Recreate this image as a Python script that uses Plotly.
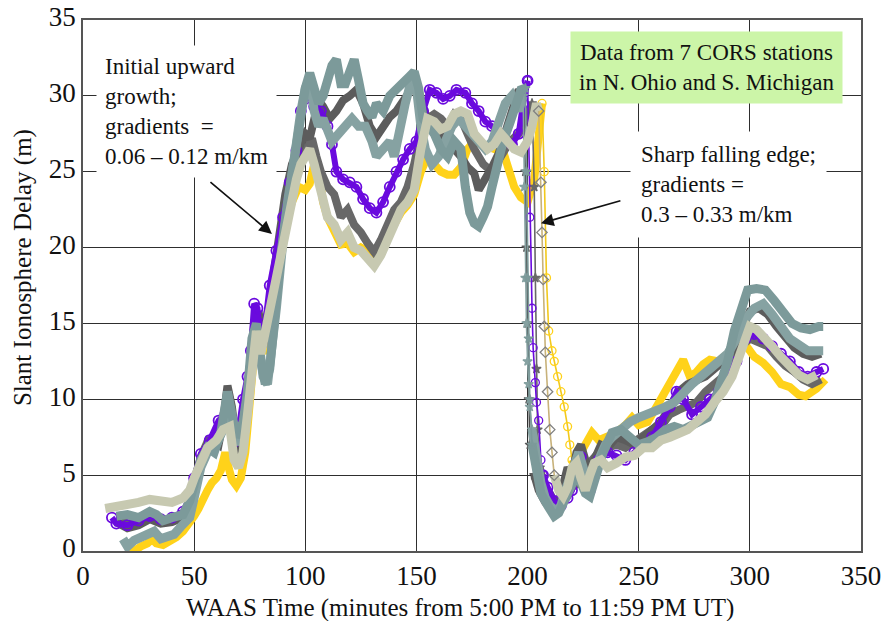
import plotly.graph_objects as go

# ---------------- data ----------------
x_ticks = [0, 50, 100, 150, 200, 250, 300, 350]
y_ticks = [0, 5, 10, 15, 20, 25, 30, 35]

khaki_x = [10, 15, 20, 25, 30, 35, 40, 45, 48, 50, 53, 56, 60, 63, 66, 68, 70, 72, 74, 76, 78, 80, 82, 84, 86, 88, 90,
           92, 94, 96, 98, 100, 102, 104, 106, 108, 110, 113, 116, 119, 122, 125, 128, 131, 134, 137, 140, 143, 146,
           149, 152, 155, 158, 161, 164, 167, 170, 173, 176, 179, 182, 185, 188, 191, 194, 197, 200, 202, 204, 205,
           206, 206.5, 207, 207.5, 208, 209, 210, 211, 212,
           214, 216, 218, 220, 222, 224, 226, 228, 230, 233, 236, 240, 244, 248, 252, 256, 260, 264, 268, 272, 276,
           280, 284, 288, 292, 296, 300, 303, 306, 310, 314, 318, 322, 326, 330]
khaki_y = [2.8, 2.9, 3.0, 3.2, 3.4, 3.3, 3.2, 3.5, 4.0, 4.8, 5.8, 6.8, 7.3, 8.0, 8.2, 6.0, 5.5, 6.5, 9.0, 12.5, 14.5,
           13.0, 14.5, 16.0, 17.5, 19.0, 20.5, 22.0, 23.5, 24.5, 25.5, 26.0, 26.5, 25.5, 24.5, 23.0, 22.0, 21.5, 20.5,
           21.0, 20.0, 19.8, 19.2, 18.8, 19.5, 20.5, 21.5, 22.5, 23.0, 23.8, 26.5, 28.5, 28.3, 27.8, 28.0, 28.8, 29.0,
           28.8, 27.5, 27.0, 26.5, 26.8, 27.5, 27.0, 26.5, 26.3, 27.0, 28.0, 29.5, 29.0,
           24.3, 21.0, 17.9, 14.8, 13.1, 10.5, 8.0, 6.5, 5.0,
           4.0, 3.6, 4.2, 5.5, 5.8, 4.8, 4.0, 5.0, 5.8, 6.0, 5.5, 5.8, 6.2, 6.3, 6.8, 6.8, 7.3, 7.5, 7.8, 8.0, 8.5,
           9.0, 9.8, 10.5, 11.5, 13.0, 14.8, 14.6, 14.2, 13.5, 12.8, 12.2, 11.6, 11.3, 11.6]

purple_x = [13, 15, 20, 25, 30, 35, 40, 45, 48, 50, 53, 57, 61, 64, 66, 68, 70, 72, 74, 75.5, 77, 78.5, 80, 82, 84, 87,
            90, 93, 96, 98, 100, 102, 104, 107, 110, 112, 114, 117, 120, 123, 126, 129, 132, 135, 138, 141, 144, 147,
            150, 153, 156, 159, 162, 165, 168, 172, 175, 178, 181, 184, 187, 190, 193, 196, 198, 200,
            201, 202, 202.5, 203.5, 204, 205, 206, 207,
            209, 212, 215, 218, 220, 222, 224, 226, 228, 230, 232, 236, 240, 244, 248, 252, 256, 260, 264, 267, 270,
            274, 278, 282, 286, 290, 294, 298, 302, 306, 310, 314, 318, 322, 326, 330, 333]
purple_y = [2.2, 1.8, 1.7, 2.0, 2.3, 2.1, 2.2, 2.6, 3.5, 4.8, 6.4, 7.3, 8.6, 9.0, 8.5, 7.2, 8.0, 10.0, 11.5, 13.2, 16.3,
            16.0, 14.0, 15.0, 17.5, 19.8, 22.0, 24.3, 26.4, 29.0, 29.8, 30.0, 29.3, 29.0, 28.0, 26.8, 25.0, 24.5, 24.3,
            24.0, 23.2, 22.6, 22.3, 23.0, 24.0, 25.0, 25.8, 26.5, 27.0, 29.0, 30.4, 30.2, 29.8, 30.0, 30.4, 30.2, 29.5,
            29.0, 28.3, 28.0, 27.5, 27.0, 26.8, 27.5, 29.5, 31.0,
            22.0, 16.0, 13.4, 11.1, 9.8, 8.6, 6.0, 5.0,
            4.2, 3.3, 3.0, 3.5, 4.0, 5.5, 6.2, 5.0, 4.0, 5.0, 6.0, 6.5, 6.3, 6.0, 6.5, 7.0, 7.5, 8.5, 9.5, 10.5, 10.0,
            9.0, 9.5, 10.0, 10.5, 11.5, 12.5, 14.0, 14.3, 14.0, 13.5, 13.0, 12.5, 11.8, 11.5, 11.8, 12.0]

darkgray1_x = [15, 20, 25, 30, 35, 40, 45, 48, 50, 53, 56, 58, 61, 63, 65, 67, 69, 71, 73, 75, 77, 79, 81, 83, 85, 88,
               91, 94, 97, 100, 102, 104, 106, 108, 111, 114, 117, 120, 123, 126, 129, 132, 135, 138, 141, 144, 147,
               149, 152, 155, 158, 161, 164, 167, 170, 173, 176, 178, 181, 184, 187, 190, 193, 196, 198,
               199, 199.5, 200, 200.5, 201, 203,
               205, 208, 211, 214, 216, 218, 220, 222, 224, 226, 228, 230, 233, 236, 240, 244, 248, 252, 256, 260, 264,
               268, 272, 276, 280, 284, 288, 292, 296, 300, 304, 308, 312, 316, 320, 324, 328, 332]
darkgray1_y = [1.9, 1.5, 1.7, 2.1, 1.8, 1.9, 2.2, 3.0, 4.5, 6.0, 7.0, 7.3, 7.0, 8.5, 10.9, 9.5, 7.0, 6.5, 8.0, 11.5,
               15.0, 15.8, 13.5, 14.5, 17.5, 20.5, 23.5, 25.5, 26.5, 27.5, 27.2, 28.5, 29.7, 29.3, 28.5, 29.0, 29.7,
               30.0, 30.4, 29.5, 28.0, 27.3, 28.0, 28.6, 29.0, 29.7, 30.3, 30.6, 29.5, 28.5, 28.0, 27.6, 27.0, 26.5,
               26.0, 25.3, 24.9, 23.8, 24.5, 25.3, 26.2, 27.5, 28.8, 30.4, 30.0,
               25.0, 20.0, 15.0, 10.0, 7.0, 5.0,
               4.0, 3.2, 2.8, 3.2, 4.5, 5.5, 5.0, 6.5, 7.0, 6.0, 5.0, 6.0, 7.0, 6.8, 7.5, 7.3, 7.0, 7.5, 8.0, 8.5, 9.5,
               10.5, 11.0, 11.3, 11.5, 12.0, 12.5, 13.0, 14.5, 15.8, 16.0, 15.6, 14.8, 14.0, 13.4, 13.0, 12.8, 13.0]

darkgray2_x = [17, 20, 25, 30, 35, 40, 45, 48, 50, 53, 56, 59, 62, 65, 67, 69, 72, 74, 76, 78, 80, 82, 85, 88, 91, 94,
               97, 100, 103, 105, 107, 110, 113, 116, 119, 122, 125, 128, 131, 134, 137, 140, 143, 146, 149, 152, 155,
               158, 161, 164, 167, 170, 173, 176, 180, 184, 188, 192, 196, 199, 202,
               203, 203.5, 204, 204.5, 205.5,
               207, 210, 213, 216, 218, 220, 223, 226, 229, 232, 236, 240, 244, 248, 252, 256, 260, 264, 268, 272, 276,
               280, 284, 288, 292, 296, 300, 304, 308, 312, 316, 320, 324, 328, 332]
darkgray2_y = [2.0, 1.8, 1.9, 2.4, 2.0, 2.1, 2.4, 3.2, 4.6, 6.2, 7.2, 6.8, 8.0, 9.5, 8.5, 6.5, 7.0, 9.5, 13.0, 15.5,
               13.8, 15.0, 17.0, 19.5, 22.5, 24.5, 25.5, 26.5, 27.2, 26.0, 25.0, 24.0, 23.5, 22.0, 22.5, 21.5, 21.0,
               20.3, 19.7, 20.5, 21.5, 22.5, 23.0, 24.0, 25.5, 27.5, 28.5, 28.8, 28.5, 28.0, 28.8, 28.5, 27.5, 26.5,
               25.5, 25.0, 26.0, 27.0, 27.5, 28.5, 29.5,
               24.0, 18.0, 12.0, 8.0, 5.5,
               4.5, 3.8, 3.0, 3.5, 5.0, 4.2, 4.5, 5.5, 6.0, 6.5, 6.8, 7.0, 6.8, 7.2, 7.5, 8.0, 8.2, 9.0, 9.3, 9.5, 9.8,
               10.5, 11.0, 11.5, 12.5, 13.5, 14.0, 13.8, 13.5, 12.8, 12.2, 11.8, 11.3, 11.0, 11.3]

yellow_x = [20, 23, 26, 29, 31, 33, 36, 39, 42, 45, 48, 50, 52, 54, 56, 58, 60, 62, 64, 65.5, 67, 69, 71, 73, 75, 77,
            79, 81, 83, 85, 88, 91, 94, 97, 100, 102, 104, 106, 108, 110, 113, 116, 119, 122, 125, 128, 131, 134, 137,
            140, 143, 146, 149, 152, 155, 158, 161, 164, 167, 170, 173, 176, 179, 182, 185, 188, 191, 194, 197, 200,
            203, 205, 206.5,
            207.5, 208.5, 209.5, 211, 212, 213.5, 215, 216.5, 218, 219, 220,
            222, 224, 226, 229, 232, 236, 240, 244, 247, 250, 254, 258, 262, 265, 268, 270, 273, 276, 279, 282, 286,
            290, 294, 298, 302, 306, 310, 314, 318, 322, 325, 330, 334]
yellow_y = [0.1, 0.0, 0.3, 0.5, 0.8, 0.5, 0.4, 0.6, 0.9, 1.3, 1.8, 2.3, 2.8, 3.5, 4.0, 4.5, 4.8, 5.3, 6.5, 5.5, 4.7,
            4.3, 4.8, 6.5, 9.5, 13.0, 14.0, 13.0, 14.5, 16.5, 19.0, 21.5, 23.0, 24.0, 23.8, 24.2, 25.5, 25.0, 23.0,
            22.0, 21.0, 20.2, 20.3, 19.7, 20.0, 19.8, 19.5, 20.0, 20.8, 21.5, 22.3, 22.8, 23.5, 25.0, 26.0, 25.5, 25.0,
            24.8, 24.8, 25.3, 26.5, 27.0, 26.8, 26.7, 26.5, 26.8, 25.5, 24.0, 23.3, 23.0,
            24.5, 27.0, 29.5,
            25.0, 18.0, 14.5, 13.2, 12.5, 11.5, 10.5, 9.5, 8.2, 7.0, 6.0,
            5.0, 6.5, 7.0, 7.8, 7.3, 7.5, 7.8, 8.3, 8.8, 8.3, 8.5, 9.5, 10.5, 11.5, 12.0, 12.6, 11.5, 11.8, 12.3, 12.6,
            12.5, 13.0, 13.5, 13.6, 12.8, 12.4, 11.8, 11.0, 10.8, 10.3, 10.2, 10.7, 11.3]

teal1_x = [15, 20, 25, 30, 33, 36, 40, 45, 48, 50, 53, 56, 59, 62, 65, 67, 69, 72, 74, 76, 78, 80, 82, 84, 86, 89, 92,
           95, 98, 100, 102, 104, 106, 108, 110, 112, 114, 116, 118, 120, 122, 124, 126, 128, 130, 132, 135, 138, 141,
           144, 147, 149, 151, 153, 156, 158, 161, 164, 167, 170, 172, 174, 176, 178, 180, 182, 184, 186, 189, 192,
           195, 197, 199,
           199.5, 200, 200.5, 201, 202,
           204, 206, 209, 212, 214, 216, 218, 220, 222, 224, 226, 228, 231, 234, 238, 242, 246, 250, 254, 258, 262,
           266, 270, 274, 278, 281, 284, 287, 290, 293, 296, 299, 303, 307, 311, 315, 319, 323, 327, 331, 333]
teal1_y = [2.3, 2.4, 2.2, 2.6, 2.4, 2.0, 2.2, 2.4, 3.3, 4.5, 6.0, 6.8, 6.5, 7.8, 10.5, 9.0, 7.5, 8.5, 10.5, 14.0, 15.0,
           12.5, 11.0, 12.0, 15.5, 19.5, 23.0, 26.0, 28.5, 30.5, 31.5, 30.5, 29.5, 30.0, 31.0, 32.0, 32.4, 30.8, 30.8,
           31.5, 32.4, 31.0, 29.5, 29.0, 28.6, 29.5, 29.0, 30.0, 30.5, 30.8, 31.3, 31.6, 30.5, 28.5, 28.0, 27.5, 26.5,
           26.0, 27.0, 26.5, 24.0, 22.3, 21.6, 21.4, 22.0, 22.7, 24.0, 25.3, 27.0, 28.2, 29.5, 30.4, 30.5,
           25.0, 18.0, 14.0, 10.0, 7.0,
           5.0, 3.8, 3.0, 2.3, 2.5, 3.2, 3.8, 4.5, 5.0, 4.5, 3.8, 3.6, 5.0, 6.5, 7.8, 8.0, 7.5, 7.0, 7.2, 7.5, 8.0,
           8.2, 8.0, 8.3, 8.5, 8.8, 9.8, 11.0, 12.5, 14.5, 16.0, 17.2, 17.3, 17.2, 16.5, 15.7, 15.0, 14.7, 14.6, 14.8,
           14.8]

teal2_x = [18, 20, 23, 26, 29, 32, 35, 38, 41, 44, 46, 48, 50, 53, 56, 60, 63, 65, 67, 70, 73, 75, 77, 79, 81, 83, 85,
           87, 90, 93, 96, 98, 100, 102, 104, 106, 108, 110, 112, 115, 118, 121, 124, 127, 130, 132, 135, 138, 140,
           142, 145, 148, 150, 152, 154, 157, 160, 163, 166, 169, 172, 175, 178, 181, 184, 187, 190, 193, 196, 198,
           198.5, 199, 199.5, 200, 200.5, 201, 202,
           204, 206, 208, 210, 213, 215, 217, 219, 221, 223, 225, 227, 229, 232, 235, 238, 242, 246, 250, 254, 258,
           262, 266, 270, 274, 278, 282, 286, 290, 294, 298, 302, 306, 310, 314, 318, 322, 326, 330, 333]
teal2_y = [0.8, 0.3, 0.7, 0.9, 1.2, 1.3, 0.8, 0.9, 1.1, 1.6, 1.9, 2.2, 3.5, 5.5, 6.5, 7.0, 8.0, 9.5, 8.5, 7.0, 9.0, 12.0,
           14.5, 14.0, 11.5, 11.0, 13.0, 16.0, 20.5, 24.0, 27.0, 29.0, 30.5, 31.2, 29.0, 28.0, 28.5, 27.5, 27.0, 27.5,
           28.0, 28.5, 28.0, 28.0, 27.0, 26.0, 26.5, 27.0, 26.0, 27.5, 29.5, 31.2, 30.5, 28.0, 26.5, 25.5, 26.0, 27.0,
           28.0, 28.5, 28.0, 27.5, 27.0, 26.5, 27.0, 28.5, 29.5, 30.0, 29.0, 30.0,
           24.0, 18.0, 15.0, 12.5, 11.0, 9.5, 8.0,
           6.0, 4.5, 3.5, 3.0, 2.6, 3.0, 4.0, 5.0, 6.0, 6.5, 5.5, 4.5, 5.0, 6.0, 7.0, 7.5, 8.0, 8.5, 8.8, 9.0, 9.3,
           9.5, 9.8, 10.5, 11.0, 11.5, 12.0, 12.5, 13.0, 14.0, 15.3, 16.0, 16.3, 15.6, 14.8, 14.0, 13.6, 13.2, 13.2,
           13.2]

# ---------------- styling ----------------
FONT = "Liberation Serif, Times New Roman, serif"

# (x, y, colour, drop-interval (thin part), marker symbol for thin part, thin line colour, band width)
series = [
    (yellow_x, yellow_y, "#ffd21a", (206.5, 220), "circle-open", "#f2c91c", 8),
    (darkgray2_x, darkgray2_y, "#686868", (202, 205.5), "star", "#686868", 8),
    (darkgray1_x, darkgray1_y, "#5c5c5c", (198, 203), "star", "#4a4a4a", 8),
    (purple_x, purple_y, "#6a0ade", (200, 207), "circle-open", "#6a0ade", 6),
    (teal2_x, teal2_y, "#86a2a2", (198, 202), "star", "#86a2a2", 9),
    (teal1_x, teal1_y, "#7c9a9a", (199, 202), "star", "#7c9a9a", 9),
    (khaki_x, khaki_y, "#c7c9b1", (205, 212), "diamond-open", "#c8b27a", 9),
]

fig = go.Figure()
for xs, ys, col, (d0, d1), sym, thin_col, bw in series:
    pre = [(a, b) for a, b in zip(xs, ys) if a <= d0]
    mid = [(a, b) for a, b in zip(xs, ys) if d0 <= a <= d1]
    post = [(a, b) for a, b in zip(xs, ys) if a >= d1]
    is_purple = col == "#6a0ade"
    for seg in (pre, post):
        fig.add_trace(go.Scatter(
            x=[p[0] for p in seg], y=[p[1] for p in seg],
            mode="lines+markers" if is_purple else "lines",
            line=dict(color=col, width=bw),
            marker=dict(symbol="circle-open", size=10, color=col, line=dict(width=1.8)) if is_purple else None,
            showlegend=False, hoverinfo="skip"))
    mcol = "#808080" if sym == "diamond-open" else col
    fig.add_trace(go.Scatter(
        x=[p[0] for p in mid], y=[p[1] for p in mid],
        mode="lines+markers",
        line=dict(color=thin_col, width=1.6),
        marker=dict(symbol=sym, size=8 if sym != "star" else 7, color=mcol,
                    line=dict(width=1.3, color=mcol)),
        showlegend=False, hoverinfo="skip"))

axis_common = dict(
    showgrid=True, gridcolor="#2e2e2e", gridwidth=1.2,
    zeroline=False, showline=True, linecolor="#555555", linewidth=1.5, mirror=True,
    ticks="inside", ticklen=5, tickcolor="#333333",
    tickfont=dict(family=FONT, size=27, color="#111111"),
    automargin=False, ticklabeloverflow="allow",
)

# the page body adds an 8px offset, so the figure is drawn 8px smaller and shifted
fig.update_layout(
    width=884, height=613,
    margin=dict(l=75, r=31, t=12, b=70),
    paper_bgcolor="white", plot_bgcolor="white",
    showlegend=False,
    xaxis=dict(range=[0, 350], tickvals=x_ticks, **axis_common),
    yaxis=dict(range=[0, 35], tickvals=y_ticks, ticklabelshift=-3, **axis_common),
    font=dict(family=FONT, color="#111111"),
)

annotations = [
    # axis titles
    dict(text="WAAS Time (minutes from 5:00 PM to 11:59 PM UT)", xref="paper", yref="paper",
         x=0.4846, y=-0.107, showarrow=False, font=dict(size=25, family=FONT, color="#111111"),
         xanchor="center", yanchor="middle"),
    dict(text="Slant Ionosphere Delay (m)", xref="paper", yref="paper",
         x=-0.077, y=0.533, showarrow=False, textangle=-90,
         font=dict(size=25, family=FONT, color="#111111"), xanchor="center", yanchor="middle"),
    # text boxes
    dict(text="Initial upward<br>growth;<br>gradients\u00a0 =<br>0.06 \u2013 0.12 m/km", xref="x", yref="y",
         x=5.8, y=28.94, xanchor="left", yanchor="middle", align="left", showarrow=False,
         bgcolor="white", borderpad=8, font=dict(size=23, family=FONT, color="#111111")),
    dict(text="Sharp falling edge;<br>gradients =<br>0.3 \u2013 0.33 m/km", xref="x", yref="y",
         x=246.0, y=24.13, xanchor="left", yanchor="middle", align="left", showarrow=False,
         bgcolor="white", borderpad=10, font=dict(size=23, family=FONT, color="#111111")),
    dict(text="Data from 7 CORS stations<br>in N. Ohio and S. Michigan", xref="x", yref="y",
         x=280.7, y=31.9, xanchor="center", yanchor="middle", align="center", showarrow=False,
         bgcolor="#ccf5a8", borderpad=8, font=dict(size=23, family=FONT, color="#111111")),
    # arrows
    dict(text="", xref="x", yref="y", x=85.0, y=20.9, ax=-63, ay=-53, showarrow=True,
         arrowhead=2, arrowsize=1.5, arrowwidth=1.7, arrowcolor="#111111"),
    dict(text="", xref="x", yref="y", x=206.0, y=21.6, ax=81, ay=-23, showarrow=True,
         arrowhead=2, arrowsize=1.5, arrowwidth=1.7, arrowcolor="#111111"),
]
fig.update_layout(annotations=annotations)

fig.write_html("out.html")
